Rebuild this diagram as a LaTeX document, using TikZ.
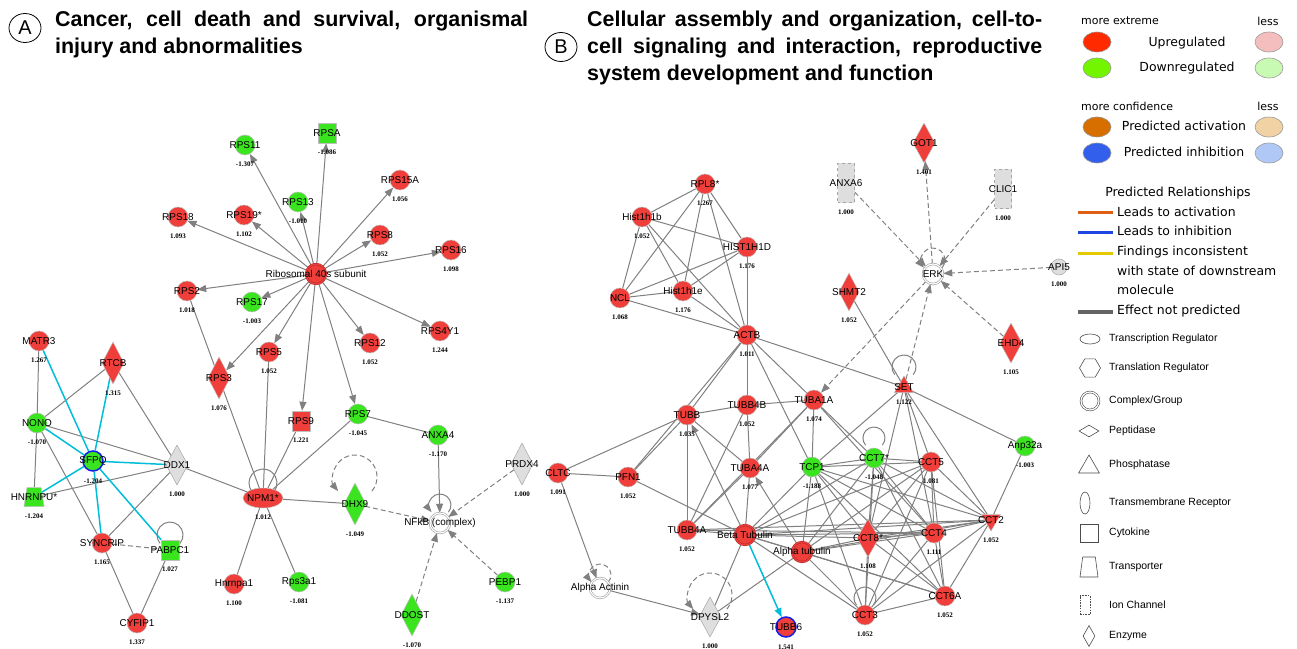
\documentclass[tikz,border=0pt]{standalone}
\usepackage{fontspec}
\setmainfont{Liberation Sans}
\newfontfamily\valfont{Liberation Serif}
\newfontfamily\legfont{DejaVu Sans}
\usepackage{xcolor}
\usetikzlibrary{shapes.geometric,arrows.meta,positioning,backgrounds}

\definecolor{upred}{RGB}{240,62,58}
\definecolor{dngreen}{RGB}{58,228,30}
\definecolor{ncgray}{RGB}{222,222,222}
\definecolor{edgegray}{RGB}{128,128,128}
\definecolor{sfcyan}{RGB}{0,190,215}
\definecolor{inhblue}{RGB}{20,30,230}
\definecolor{lgred}{RGB}{255,42,0}
\definecolor{lggreen}{RGB}{115,245,0}
\definecolor{lgpink}{RGB}{245,190,190}
\definecolor{lglgreen}{RGB}{200,250,180}
\definecolor{lgorange}{RGB}{215,110,0}
\definecolor{lgblue}{RGB}{50,95,235}
\definecolor{lglorange}{RGB}{240,210,165}
\definecolor{lglblue}{RGB}{175,200,245}
\definecolor{relorange}{RGB}{225,95,20}
\definecolor{relblue}{RGB}{30,70,225}
\definecolor{relyellow}{RGB}{230,200,0}
\definecolor{relgray}{RGB}{100,100,100}

\begin{document}
\begin{tikzpicture}[x=1bp, y=1bp,
    mol/.style={draw=black!25, line width=0.5bp, inner sep=0pt, minimum size=20bp},
    up/.style={mol, fill=upred},
    dn/.style={mol, fill=dngreen},
    nc/.style={mol, fill=ncgray, draw=black!35},
    gene/.style={circle},
    cyto/.style={rectangle, minimum width=18bp, minimum height=20bp},
    enz/.style={diamond, minimum width=22bp, minimum height=42bp},
    trans/.style={trapezium, trapezium left angle=78, trapezium right angle=78, trapezium stretches=true, inner sep=2bp, minimum width=20bp, minimum height=19bp},
    treg/.style={ellipse, minimum width=40bp, minimum height=20bp},
    phos/.style={regular polygon, regular polygon sides=3, minimum size=22bp},
    ionch/.style={rectangle, dashed, minimum width=17bp, minimum height=39bp},
    cplx/.style={circle, double, double distance=1.2bp},
    upc/.style={up, cplx, draw=upred!70!black, double=upred},
    ncc/.style={mol, cplx, fill=white, draw=black!45, double=white},
    inh/.style={draw=inhblue, line width=1.5bp},
    gname/.style={font=\fontsize{10}{11}\selectfont, inner sep=0pt},
    val/.style={font=\valfont\bfseries\fontsize{7}{8}\selectfont, inner sep=0.5bp, yshift=-6bp},
    lab/.style 2 args={label={[gname]center:#1}, label={[val]below:#2}},
    lab1/.style={label={[gname]center:#1}},
    link/.style={draw=edgegray, line width=1bp},
    arr/.style={link, -{Triangle[length=9bp, width=7bp]}},
    dlink/.style={link, dash pattern=on 5bp off 3bp},
    darr/.style={dlink, -{Triangle[length=9bp, width=7bp]}},
    sflink/.style={draw=sfcyan, line width=1.5bp},
    sfarr/.style={sflink, -{Triangle[length=9bp, width=7bp]}},
    panel/.style={ellipse, draw, line width=0.8bp, minimum width=32bp, minimum height=29bp, inner sep=0pt, font=\fontsize{20}{20}\selectfont},
    title/.style={font=\bfseries\fontsize{21.5}{27}\selectfont, align=left, inner sep=0pt},
    legsmall/.style={font=\legfont\fontsize{11}{13}\selectfont, inner sep=0pt},
    legbig/.style={font=\legfont\fontsize{12.5}{19.5}\selectfont, inner sep=0pt},
    legoval/.style={ellipse, draw=black!40, line width=0.6bp, minimum width=28bp, minimum height=20bp},
    swatch/.style={rectangle, inner sep=0pt, minimum width=35bp, minimum height=3bp},
    legshape/.style={draw=black!70, line width=0.6bp, fill=white, inner sep=0pt},
    legtext/.style={anchor=west, inner sep=0pt, font=\fontsize{10.5}{12}\selectfont}
]
\useasboundingbox (0,0) rectangle (1297,-649);

% ---------------- panel A ----------------
\node[panel] (pa) at (25,-28) {A};
\node[title, anchor=north west] (titlea) at (55,-11)
    {\makebox[473bp][s]{Cancer, cell death and survival, organismal}\\injury and abnormalities};

\node[upc, lab1={Ribosomal 40s subunit}] (ribo) at (316,-274) {};
\node[dn, cyto, lab={RPSA}{-1.086}] (rpsa) at (327,-133) {};
\node[dn, gene, lab={RPS11}{-1.307}] (rps11) at (245,-145) {};
\node[dn, gene, lab={RPS13}{-1.010}] (rps13) at (298,-202) {};
\node[up, gene, lab={RPS15A}{1.056}] (rps15a) at (400,-180) {};
\node[up, gene, lab={RPS18}{1.093}] (rps18) at (178,-217) {};
\node[up, gene, lab={RPS19*}{1.102}] (rps19) at (244,-215) {};
\node[up, gene, lab={RPS8}{1.052}] (rps8) at (380,-235) {};
\node[up, gene, lab={RPS16}{1.098}] (rps16) at (451,-250) {};
\node[up, gene, lab={RPS2}{1.018}] (rps2) at (187,-291) {};
\node[dn, gene, lab={RPS17}{-1.003}] (rps17) at (252,-302) {};
\node[up, gene, lab={RPS5}{1.052}] (rps5) at (269,-352) {};
\node[up, gene, lab={RPS12}{1.052}] (rps12) at (370,-343) {};
\node[up, gene, lab={RPS4Y1}{1.244}] (rps4y1) at (440,-331) {};
\node[up, enz, lab={RPS3}{1.076}] (rps3) at (219,-378) {};
\node[up, cyto, lab={RPS9}{1.221}] (rps9) at (301,-421) {};
\node[dn, gene, lab={RPS7}{-1.045}] (rps7) at (358,-414) {};
\node[dn, gene, lab={ANXA4}{-1.170}] (anxa4) at (438,-435) {};
\node[up, treg, lab={NPM1*}{1.012}] (npm1) at (263,-498) {};
\node[dn, enz, lab={DHX9}{-1.049}] (dhx9) at (355,-504) {};
\node[ncc, lab1={NFkB (complex)}] (nfkb) at (440,-523) {};
\node[nc, enz, lab={PRDX4}{1.000}] (prdx4) at (522,-464) {};
\node[dn, gene, lab={PEBP1}{-1.137}] (pebp1) at (505,-582) {};
\node[dn, enz, lab={DDOST}{-1.070}] (ddost) at (412,-615) {};
\node[dn, gene, lab={Rps3a1}{-1.081}] (rps3a1) at (299,-582) {};
\node[up, gene, lab={Hnrnpa1}{1.100}] (hnrnpa1) at (234,-584) {};
\node[up, gene, lab={MATR3}{1.267}] (matr3) at (39,-341) {};
\node[up, enz, lab={RTCB}{1.315}] (rtcb) at (113,-363) {};
\node[dn, gene, lab={NONO}{-1.070}] (nono) at (37,-423) {};
\node[dn, gene, inh, lab={SFPQ}{-1.204}] (sfpq) at (93,-461) {};
\node[nc, enz, minimum height=40bp, lab={DDX1}{1.000}] (ddx1) at (177,-465) {};
\node[dn, trans, lab={HNRNPU*}{-1.204}] (hnrnpu) at (34,-497) {};
\node[up, gene, lab={SYNCRIP}{1.165}] (syncrip) at (102,-543) {};
\node[dn, cyto, lab={PABPC1}{1.027}] (pabpc1) at (170,-550) {};
\node[up, gene, lab={CYFIP1}{1.337}] (cyfip1) at (137,-623) {};

% ---------------- panel B ----------------
\node[panel] (pb) at (561,-47) {B};
\node[title, anchor=north west] (titleb) at (587,-11)
    {\makebox[455bp][s]{Cellular assembly and organization, cell-to-}\\\makebox[455bp][s]{cell signaling and interaction, reproductive}\\system development and function};

\node[up, gene, lab={RPL8*}{1.267}] (rpl8) at (705,-184) {};
\node[up, gene, lab={Hist1h1b}{1.052}] (h1b) at (642,-217) {};
\node[up, gene, lab={HIST1H1D}{1.176}] (h1d) at (747,-247) {};
\node[up, gene, lab={NCL}{1.068}] (ncl) at (620,-298) {};
\node[up, gene, lab={Hist1h1e}{1.176}] (h1e) at (683,-291) {};
\node[up, gene, lab={ACTB}{1.011}] (actb) at (747,-335) {};
\node[nc, ionch, lab={ANXA6}{1.000}] (anxa6) at (846,-183) {};
\node[up, enz, minimum width=20bp, minimum height=38bp, lab={SHMT2}{1.052}] (shmt2) at (849,-292) {};
\node[up, enz, minimum height=40bp, lab={GOT1}{1.401}] (got1) at (924,-143) {};
\node[nc, ionch, lab={CLIC1}{1.000}] (clic1) at (1003,-189) {};
\node[ncc, lab1={ERK}] (erk) at (933,-274) {};
\node[nc, gene, minimum size=16bp, lab={API5}{1.000}] (api5) at (1059,-267) {};
\node[up, enz, minimum height=40bp, lab={EHD4}{1.105}] (ehd4) at (1011,-343) {};
\node[up, gene, lab={TUBB}{1.035}] (tubb) at (687,-415) {};
\node[up, gene, lab={TUBB4B}{1.052}] (tubb4b) at (747,-405) {};
\node[up, gene, lab={TUBA1A}{1.074}] (tuba1a) at (814,-400) {};
\node[up, phos, lab={SET}{1.122}] (set) at (904,-387) {};
\node[up, gene, lab={CLTC}{1.091}] (cltc) at (558,-473) {};
\node[up, gene, lab={PFN1}{1.052}] (pfn1) at (628,-477) {};
\node[up, gene, lab={TUBA4A}{1.077}] (tuba4a) at (750,-468) {};
\node[dn, gene, lab={TCP1}{-1.188}] (tcp1) at (812,-467) {};
\node[dn, gene, lab={CCT7*}{-1.048}] (cct7) at (874,-458) {};
\node[up, gene, lab={CCT5}{1.081}] (cct5) at (931,-462) {};
\node[dn, gene, lab={Anp32a}{-1.003}] (anp32a) at (1025,-446) {};
\node[up, gene, lab={TUBB4A}{1.052}] (tubb4a) at (687,-530) {};
\node[upc, lab1={Beta Tubulin}] (btub) at (745,-535) {};
\node[upc, lab1={Alpha tubulin}] (atub) at (802,-552) {};
\node[up, enz, minimum height=38bp, lab={CCT8*}{1.108}] (cct8) at (868,-538) {};
\node[up, gene, lab={CCT4}{1.111}] (cct4) at (934,-533) {};
\node[up, phos, shape border rotate=180, lab={CCT2}{1.052}] (cct2) at (991,-520) {};
\node[up, gene, lab={CCT6A}{1.052}] (cct6a) at (945,-596) {};
\node[up, gene, lab={CCT3}{1.052}] (cct3) at (865,-615) {};
\node[up, gene, inh, lab={TUBB6}{1.541}] (tubb6) at (786,-627) {};
\node[ncc, lab1={Alpha Actinin}] (aactn) at (600,-588) {};
\node[nc, enz, minimum height=40bp, lab={DPYSL2}{1.000}] (dpysl2) at (710,-617) {};

% ---------------- connectors ----------------
\begin{scope}[on background layer]
  % panel A
  \foreach \m in {rps11,rpsa,rps13,rps15a,rps18,rps19,rps8,rps16,rps2,rps17,rps3,rps5,rps9,rps7,rps12,rps4y1}
    \draw[arr] (ribo) -- (\m);
  \foreach \a/\b in {rps2/npm1,rps5/npm1,rps9/npm1,rps7/npm1,npm1/hnrnpa1,npm1/rps3a1,npm1/dhx9,rps7/anxa4,ddx1/npm1,
      matr3/nono,rtcb/nono,rtcb/ddx1,nono/ddx1,nono/hnrnpu,nono/syncrip,hnrnpu/ddx1,syncrip/ddx1,syncrip/cyfip1,pabpc1/cyfip1}
    \draw[link] (\a) -- (\b);
  \foreach \a in {matr3,rtcb,nono,ddx1,hnrnpu,syncrip,pabpc1}
    \draw[sflink] (sfpq) -- (\a);
  \draw[dlink] (syncrip) -- (pabpc1);
  \draw[arr] (anxa4) -- (nfkb);
  \foreach \a in {dhx9,prdx4,ddost,pebp1}
    \draw[darr] (\a) -- (nfkb);
  \draw[darr] (dhx9) ++(16.9,12.9) arc[start angle=-40, end angle=220, radius=22];
  \draw[arr] (nfkb) ++(8.4,10.9) arc[start angle=-40, end angle=220, radius=11];
  \draw[link] (npm1) ++(10.7,6) arc[start angle=-40, end angle=220, radius=14];
  \draw[link] (pabpc1) ++(10,6.6) arc[start angle=-40, end angle=220, radius=13];

  % panel B
  \foreach \a/\b in {rpl8/h1b,rpl8/h1d,rpl8/ncl,rpl8/h1e,rpl8/actb,h1b/h1d,h1b/ncl,h1b/h1e,h1b/actb,
      h1d/ncl,h1d/h1e,h1d/actb,ncl/h1e,ncl/actb,h1e/actb,
      actb/tubb,actb/tubb4b,actb/tuba1a,actb/tcp1,actb/set,actb/pfn1,
      tubb/tubb4b,tubb/cltc,tubb/pfn1,tubb/tuba4a,tubb/tubb4a,
      tubb4b/tuba1a,tubb4b/tuba4a,tubb4b/tubb4a,
      tuba1a/tcp1,tuba1a/cct7,tuba1a/cct4,tuba1a/tuba4a,tuba1a/tubb4a,
      tuba4a/btub,tuba4a/tubb4a,cltc/pfn1,pfn1/btub,
      tubb4a/btub,tubb4a/cct4,tubb4a/cct2,btub/dpysl2,atub/dpysl2,
      set/tcp1,set/cct8,set/cct5,set/cct4,set/cct2,set/anp32a,anp32a/cct2,shmt2/set}
    \draw[link] (\a) -- (\b);
  % chaperonin complex, all pairs
  \foreach \a [count=\i] in {btub,atub,tcp1,cct7,cct5,cct8,cct4,cct2,cct6a,cct3}
    \foreach \b [count=\j] in {btub,atub,tcp1,cct7,cct5,cct8,cct4,cct2,cct6a,cct3}
      {\ifnum\j>\i \draw[link] (\a) -- (\b); \fi}
  \draw[arr] (btub) -- (tubb);
  \draw[arr] (atub) -- (tuba4a);
  \draw[arr] (cltc) -- (aactn);
  \draw[arr] (aactn) -- (dpysl2);
  \draw[sfarr] (btub) -- (tubb6);
  \foreach \a in {anxa6,clic1,api5,ehd4,set}
    \draw[darr] (\a) -- (erk);
  \draw[darr] (erk) -- (got1);
  \draw[darr] (erk) -- (tuba1a);
  \draw[darr] (erk) ++(9.2,6.3) arc[start angle=-40, end angle=220, radius=12];
  \draw[link] (set) ++(9.2,12.3) arc[start angle=-40, end angle=220, radius=12];
  \draw[link] (cct7) ++(8.4,12.9) arc[start angle=-40, end angle=220, radius=11];
  \draw[link] (cct3) ++(8.4,9.9) arc[start angle=-40, end angle=220, radius=11];
  \draw[darr] (dpysl2) ++(16.9,7.9) arc[start angle=-40, end angle=220, radius=22];
  \draw[darr] (aactn) ++(8.4,5.9) arc[start angle=-40, end angle=220, radius=11];
\end{scope}

% ---------------- legend ----------------
\node[legsmall, anchor=west] (lmex) at (1081,-21) {more extreme};
\node[legsmall] (lless1) at (1268,-21) {less};
\node[legoval, fill=lgred] (lupd) at (1097,-42) {};
\node[legbig] (lupt) at (1187,-43) {Upregulated};
\node[legoval, fill=lgpink] (lupl) at (1269,-42) {};
\node[legoval, fill=lggreen] (ldnd) at (1097,-68) {};
\node[legbig] (ldnt) at (1187,-68) {Downregulated};
\node[legoval, fill=lglgreen] (ldnl) at (1269,-68) {};
\node[legsmall, anchor=west] (lmcf) at (1081,-106) {more confidence};
\node[legsmall] (lless2) at (1268,-106) {less};
\node[legoval, fill=lgorange] (lacd) at (1097,-127) {};
\node[legbig] (lact) at (1184,-126) {Predicted activation};
\node[legoval, fill=lglorange] (lacl) at (1269,-127) {};
\node[legoval, fill=lgblue] (linhd) at (1097,-153) {};
\node[legbig] (linht) at (1184,-152) {Predicted inhibition};
\node[legoval, fill=lglblue] (linhl) at (1269,-153) {};

\node[legbig] (lrel) at (1178,-193) {Predicted Relationships};
\node[swatch, fill=relorange] (sact) at (1095.5,-213) {};
\node[legbig, anchor=west] (tact) at (1117,-212) {Leads to activation};
\node[swatch, fill=relblue] (sinh) at (1095.5,-232) {};
\node[legbig, anchor=west] (tinh) at (1117,-231) {Leads to inhibition};
\node[swatch, fill=relyellow] (sinc) at (1095.5,-253) {};
\node[legbig, anchor=west, align=left] (tinc) at (1117,-270.5) {Findings inconsistent\\with state of downstream\\molecule};
\node[swatch, fill=relgray, minimum height=3.5bp] (snp) at (1095.5,-312) {};
\node[legbig, anchor=west] (tnp) at (1117,-311) {Effect not predicted};

\node[legshape, ellipse, minimum width=20bp, minimum height=10bp] (ktreg) at (1090,-339) {};
\node[legtext] (ttreg) at (1109,-339) {Transcription Regulator};
\node[legshape, regular polygon, regular polygon sides=6, minimum size=21bp] (ktrl) at (1090,-368) {};
\node[legtext] (ttrl) at (1109,-368) {Translation Regulator};
\node[legshape, circle, double, double distance=1.2bp, minimum size=18bp] (kcplx) at (1090,-401) {};
\node[legtext] (tcplx) at (1109,-401) {Complex/Group};
\node[legshape, diamond, minimum width=20bp, minimum height=12bp] (kpep) at (1089,-431) {};
\node[legtext] (tpep) at (1109,-431) {Peptidase};
\node[legshape, regular polygon, regular polygon sides=3, minimum size=24bp] (kphos) at (1089,-467) {};
\node[legtext] (tphos) at (1109,-465) {Phosphatase};
\node[legshape, ellipse, minimum width=10bp, minimum height=22bp] (ktm) at (1085,-503) {};
\node[legtext] (ttm) at (1109,-503) {Transmembrane Receptor};
\node[legshape, rectangle, minimum width=18bp, minimum height=18bp] (kcyt) at (1089,-533) {};
\node[legtext] (tcyt) at (1109,-533) {Cytokine};
\node[legshape, trapezium, trapezium left angle=78, trapezium right angle=78, trapezium stretches=true, inner sep=2bp, minimum width=18bp, minimum height=20bp] (ktrp) at (1089,-567) {};
\node[legtext] (ttrp) at (1109,-567) {Transporter};
\node[legshape, rectangle, dash pattern=on 1.5bp off 1.2bp, minimum width=10bp, minimum height=19bp] (kion) at (1085,-605) {};
\node[legtext] (tion) at (1109,-605) {Ion Channel};
\node[legshape, diamond, minimum width=12bp, minimum height=21bp] (kenz) at (1089,-636) {};
\node[legtext] (tenz) at (1109,-636) {Enzyme};
\end{tikzpicture}
\end{document}
